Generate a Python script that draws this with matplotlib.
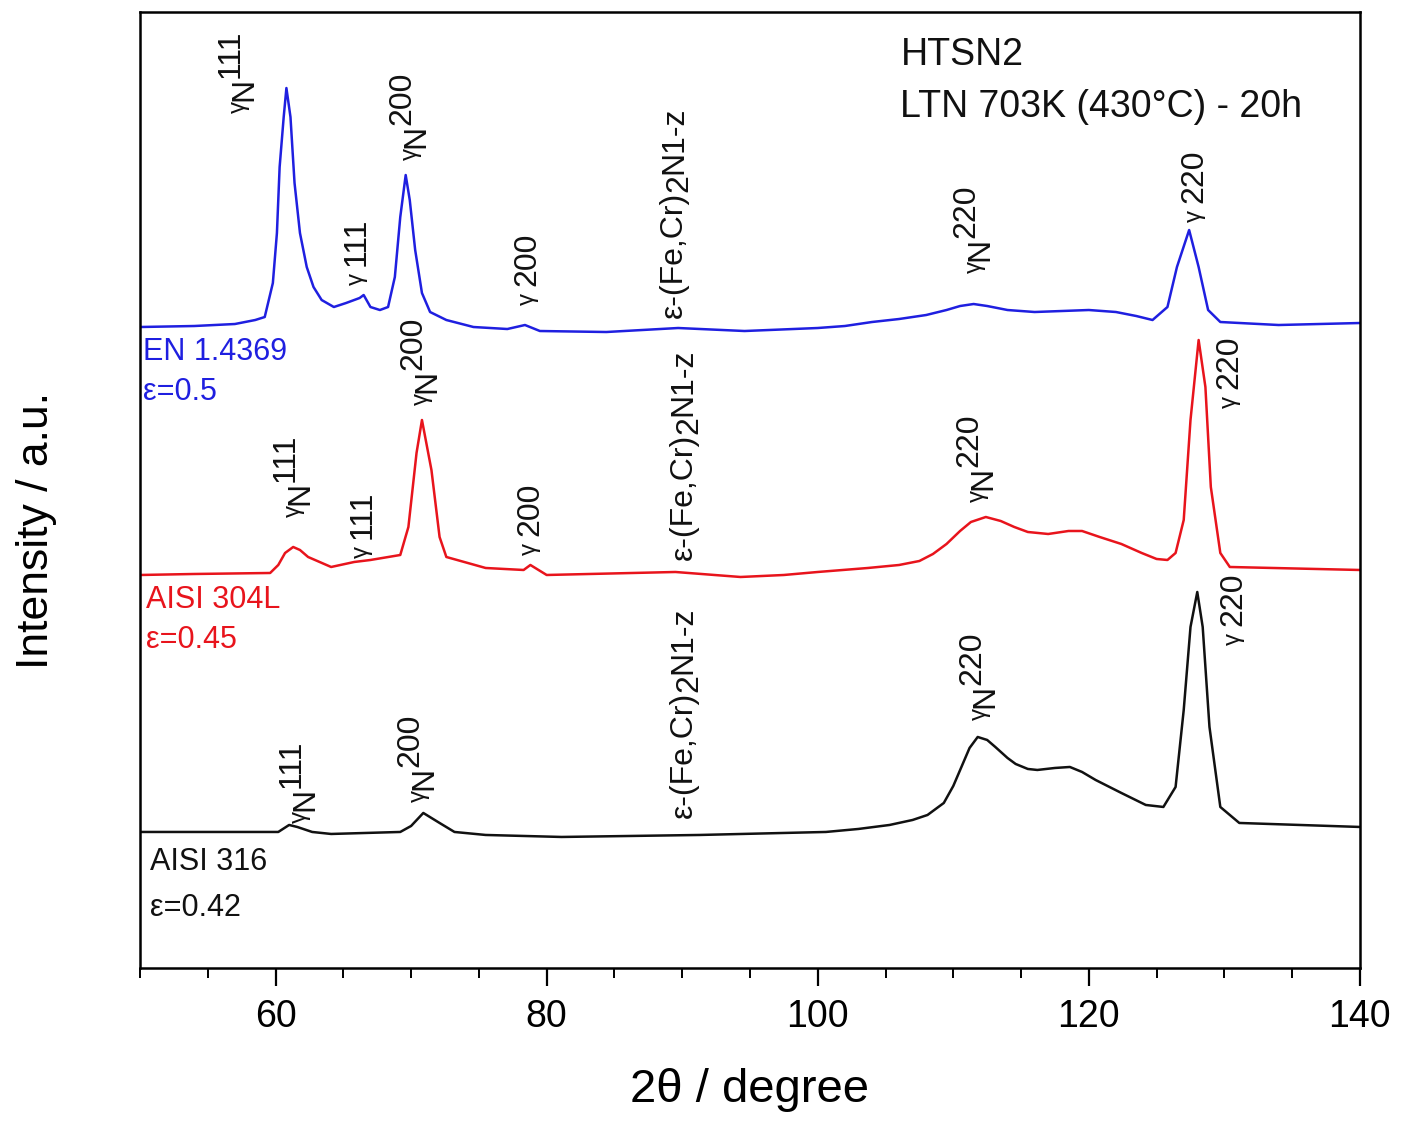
import matplotlib
matplotlib.use("Agg")
import matplotlib.pyplot as plt
from matplotlib.ticker import MultipleLocator, NullLocator

plt.rcParams["font.family"] = ["Liberation Sans", "DejaVu Sans"]

# EN 1.4369 (blue, top)
en_2theta = [50.0, 54.0, 57.0, 58.5, 59.2, 59.8, 60.1, 60.3, 60.6, 60.8, 61.1, 61.4,
             61.8, 62.3, 62.8, 63.4, 64.3, 65.2, 66.2, 66.5, 67.0, 67.7, 68.3, 68.8,
             69.2, 69.6, 69.9, 70.3, 70.8, 71.4, 72.6, 74.6, 77.1, 78.4, 79.5, 84.4,
             89.7, 94.6, 100.0, 102.0, 104.0, 106.0, 108.0, 109.5, 110.5, 111.5, 112.5,
             114.0, 116.0, 118.0, 120.0, 122.0, 123.5, 124.7, 125.8, 126.5, 127.4,
             128.1, 128.8, 129.7, 134.0, 140.0]
en_int = [641, 642, 644, 648, 651, 685, 735, 801, 851, 880, 851, 785,
          735, 701, 681, 668, 661, 665, 670, 673, 661, 658, 661, 691,
          751, 793, 768, 718, 675, 656, 648, 641, 639, 643, 637, 636,
          640, 637, 640, 642, 646, 649, 653, 658, 662, 664, 662,
          658, 656, 657, 658, 656, 652, 648, 661, 701, 738,
          701, 658, 646, 643, 645]

# AISI 304L (red, middle)
l304_2theta = [50.0, 54.0, 59.6, 60.2, 60.7, 61.3, 61.8, 62.4, 64.1, 65.8, 67.0, 69.2,
               69.8, 70.4, 70.8, 71.5, 72.1, 72.6, 75.5, 78.3, 78.8, 80.0, 89.5, 94.3,
               97.5, 100.0, 103.7, 106.0, 107.5, 108.5, 109.5, 110.5, 111.3, 112.4,
               113.5, 114.5, 115.5, 117.0, 118.5, 119.5, 120.8, 122.4, 123.9, 125.0,
               125.8, 126.4, 127.0, 127.5, 128.1, 128.6, 129.0, 129.7, 130.4, 140.0]
l304_int = [393, 394, 395, 403, 415, 421, 418, 411, 401, 406, 408, 413,
            441, 515, 548, 498, 431, 411, 400, 398, 403, 393, 396, 391,
            393, 396, 400, 403, 407, 414, 424, 437, 446, 451,
            447, 441, 436, 434, 437, 437, 431, 424, 415, 409,
            408, 415, 448, 548, 628, 581, 481, 415, 401, 398]

# AISI 316 (black, bottom)
s316_2theta = [50.0, 60.2, 61.0, 61.6, 62.7, 64.1, 69.2, 70.0, 70.9, 72.1, 73.2, 75.5,
               81.1, 91.3, 100.6, 103.0, 105.3, 107.0, 108.1, 109.3, 110.0, 110.6,
               111.2, 111.8, 112.5, 113.1, 114.0, 114.6, 115.5, 116.2, 117.5, 118.6,
               119.5, 120.5, 122.4, 124.2, 125.5, 126.4, 127.0, 127.5, 128.0, 128.4,
               128.9, 129.7, 131.1, 140.0]
s316_int = [136, 136, 143, 141, 136, 134, 136, 142, 155, 145, 136, 133,
            131, 133, 136, 139, 143, 148, 153, 165, 182, 201,
            220, 231, 228, 221, 210, 204, 199, 198, 200, 201,
            196, 188, 175, 163, 161, 181, 258, 341, 376, 341,
            241, 161, 145, 141]

# peak labels: (2theta, intensity at label foot, kind, hkl)
en_peaks = [(57.7, 855, "gN", "111"), (66.0, 683, "g", "111"), (70.4, 808, "gN", "200"),
            (78.6, 663, "g", "200"), (89.4, 650, "eps", ""), (112.0, 695, "gN", "220"),
            (127.8, 746, "g", "220")]
l304_peaks = [(61.8, 451, "gN", "111"), (66.4, 410, "g", "111"), (71.2, 563, "gN", "200"),
              (78.8, 413, "g", "200"), (90.1, 408, "eps", ""), (112.2, 466, "gN", "220"),
              (130.4, 560, "g", "220")]
s316_peaks = [(62.2, 145, "gN", "111"), (71.0, 166, "gN", "200"), (90.1, 150, "eps", ""),
              (112.4, 248, "gN", "220"), (130.7, 323, "g", "220")]

samples = [("EN 1.4369", "ε=0.5", "#1f1fe0", 50.2, 616, 576),
           ("AISI 304L", "ε=0.45", "#e8141c", 50.45, 368, 328),
           ("AISI 316", "ε=0.42", "#111111", 50.7, 106, 60)]

PEAK_FS = 23

fig = plt.figure(figsize=(14.03, 11.25), dpi=100)
ax = fig.add_axes([0.0998, 0.1396, 0.8695, 0.8497])
renderer = fig.canvas.get_renderer()


def peak_label(x, y, kind, hkl):
    if kind == "gN":
        parts = [("γ", 0.75, 4), ("N", 1.0, 0), (hkl, 1.0, 10)]
    elif kind == "g":
        parts = [("γ ", 0.75, 0), (hkl, 1.0, 0)]
    else:
        parts = [("ε-(Fe,Cr)", 1.0, 0), ("2", 1.0, -4), ("N1-z", 1.0, 0)]
    along = 0.0
    for txt, scale, lift in parts:
        t = ax.annotate(txt, (x, y), xytext=(-lift, along), textcoords="offset points",
                        rotation=90, ha="center", va="bottom",
                        fontsize=PEAK_FS * scale, color="#111111")
        along += t.get_window_extent(renderer).height * 72 / fig.dpi


ax.plot(en_2theta, en_int, color="#1f1fe0", lw=1.8)
ax.plot(l304_2theta, l304_int, color="#e8141c", lw=1.8)
ax.plot(s316_2theta, s316_int, color="#111111", lw=1.8)

ax.set_xlim(50, 140)
ax.set_ylim(0, 956)

for pk in en_peaks + l304_peaks + s316_peaks:
    peak_label(*pk)

for name, eps, col, x, y1, y2 in samples:
    ax.text(x, y1, name, color=col, fontsize=22, ha="left", va="center")
    ax.text(x, y2, eps, color=col, fontsize=22, ha="left", va="center")

ax.text(106.1, 913, "HTSN2", fontsize=27, ha="left", va="center", color="#111111")
ax.text(106.1, 861, "LTN 703K (430°C) - 20h", fontsize=27, ha="left", va="center",
        color="#111111")

ax.xaxis.set_major_locator(MultipleLocator(20))
ax.xaxis.set_minor_locator(MultipleLocator(5))
ax.yaxis.set_major_locator(NullLocator())
ax.tick_params(axis="x", which="major", direction="out", length=13, width=1.6,
               labelsize=27, pad=9)
ax.tick_params(axis="x", which="minor", direction="out", length=7, width=1.4)
for sp in ax.spines.values():
    sp.set_linewidth(1.8)

ax.set_xlabel("2θ / degree", fontsize=34, labelpad=24)
ax.set_ylabel("Intensity / a.u.", fontsize=32)
ax.yaxis.set_label_coords(-0.068, 0.458)

fig.savefig("out.png", dpi=100)
